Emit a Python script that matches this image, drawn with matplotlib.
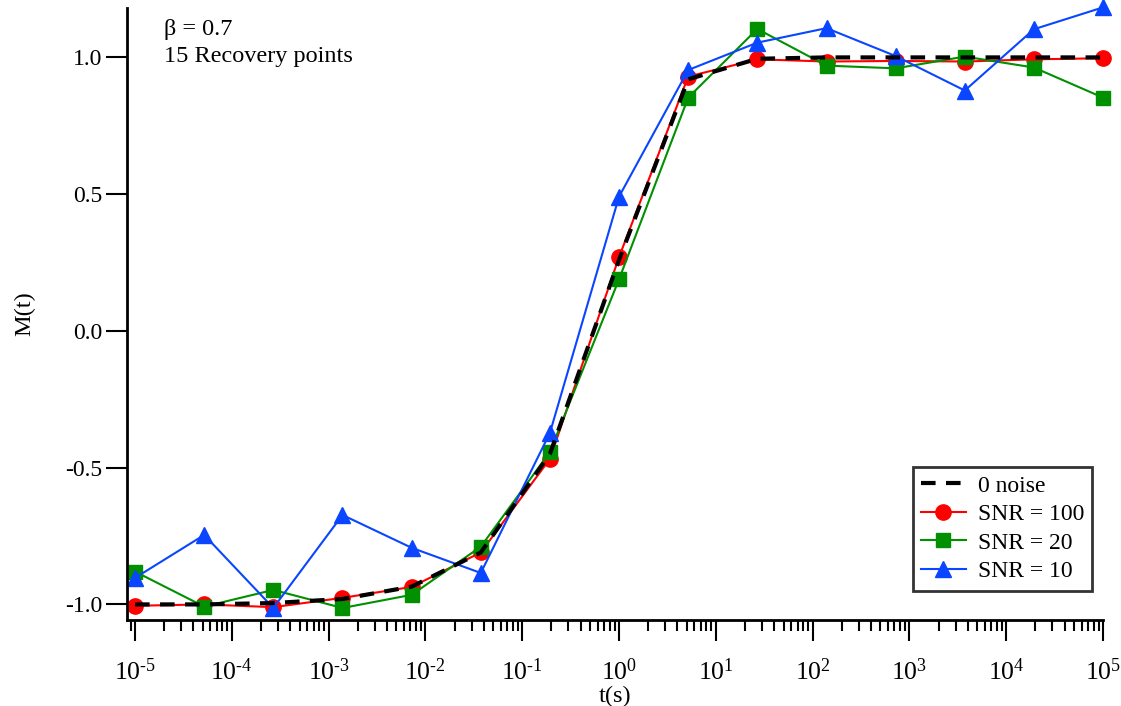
import math
import matplotlib
matplotlib.use('Agg')
import matplotlib.pyplot as plt
from matplotlib.ticker import LogLocator, FixedLocator, FuncFormatter, NullLocator

plt.rcParams['font.family'] = ['Liberation Serif', 'DejaVu Serif']
plt.rcParams['mathtext.fontset'] = 'custom'
plt.rcParams['mathtext.rm'] = 'Liberation Serif'
plt.rcParams['mathtext.it'] = 'Liberation Serif:italic'
plt.rcParams['font.size'] = 17

# recovery times (s), 15 points on a log grid
t = [1e-5, 5.18e-5, 2.68e-4, 1.39e-3, 7.20e-3, 3.73e-2, 0.193, 1.0,
     5.18, 26.8, 139.0, 720.0, 3728.0, 19307.0, 1e5]

m_clean = [-1.0, -1.0, -0.995, -0.98, -0.935, -0.81, -0.45, 0.26,
           0.92, 0.995, 1.0, 1.0, 1.0, 1.0, 1.0]
m_snr100 = [-1.005, -1.0, -1.01, -0.976, -0.936, -0.81, -0.468, 0.27,
            0.93, 0.993, 0.985, 0.987, 0.985, 0.993, 0.997]
m_snr20 = [-0.88, -1.008, -0.947, -1.013, -0.965, -0.789, -0.443, 0.189,
           0.853, 1.104, 0.97, 0.96, 1.003, 0.963, 0.853]
m_snr10 = [-0.903, -0.746, -1.013, -0.673, -0.793, -0.885, -0.373, 0.491,
           0.954, 1.054, 1.107, 1.005, 0.879, 1.103, 1.183]

fig = plt.figure(figsize=(11.21, 7.06), dpi=100)
ax = fig.add_axes([0.1133, 0.1218, 0.8707, 0.867])

ax.plot(t, m_snr100, color='#ff0000', lw=1.5, marker='o', ms=11,
        label='SNR = 100', clip_on=False)
ax.plot(t, m_snr20, color='#009000', lw=1.5, marker='s', ms=10.5,
        label='SNR = 20', clip_on=False)
ax.plot(t, m_snr10, color='#0a45ff', lw=1.5, marker='^', ms=12,
        label='SNR = 10', clip_on=False)
ax.plot(t, m_clean, color='black', lw=3, ls=(0, (3.5, 2.5)),
        label='0 noise', zorder=2.5)

ax.set_xscale('log')
ax.set_xlim(10 ** -5.083, 1e5)
ax.set_ylim(-1.057, 1.181)


def pow_label(v, pos):
    k = round(math.log10(v))
    exp = r'\text{-}%d' % -k if k < 0 else '%d' % k
    return r'$\mathregular{10^{%s}}$' % exp


ax.xaxis.set_major_locator(FixedLocator([10.0 ** k for k in range(-5, 6)]))
ax.xaxis.set_minor_locator(LogLocator(base=10, subs=range(2, 10), numticks=50))
ax.xaxis.set_major_formatter(FuncFormatter(pow_label))
ax.set_yticks([-1.0, -0.5, 0.0, 0.5, 1.0])
ax.set_yticklabels(['-1.0', '-0.5', '0.0', '0.5', '1.0'])
ax.yaxis.set_minor_locator(NullLocator())

for s in ['top', 'right']:
    ax.spines[s].set_visible(False)
for s in ['left', 'bottom']:
    ax.spines[s].set_linewidth(2)

ax.tick_params(axis='both', which='major', direction='out', length=15,
               width=1.5, labelsize=17)
ax.tick_params(axis='x', which='major', pad=13, labelsize=18.5)
ax.tick_params(axis='x', which='minor', direction='out', length=8, width=1.5)
ax.tick_params(axis='y', pad=3)

ax.set_xlabel('t(s)', fontsize=17.5, labelpad=0)
ax.set_ylabel('M(t)', fontsize=17.5, labelpad=21)

ax.text(0.038, 0.982, 'β = 0.7', transform=ax.transAxes, fontsize=17.5, va='top')
ax.text(0.038, 0.937, '15 Recovery points', transform=ax.transAxes,
        fontsize=17.5, va='top')

handles, labels = ax.get_legend_handles_labels()
order = [3, 0, 1, 2]
leg = ax.legend([handles[i] for i in order], [labels[i] for i in order],
                loc='lower right', bbox_to_anchor=(0.989, 0.048), fontsize=17,
                frameon=True, fancybox=False, edgecolor='black',
                handlelength=1.9, labelspacing=0.3, borderpad=0.35,
                handletextpad=0.5, borderaxespad=0)
leg.get_frame().set_linewidth(2)

fig.savefig('out.png', dpi=100)
